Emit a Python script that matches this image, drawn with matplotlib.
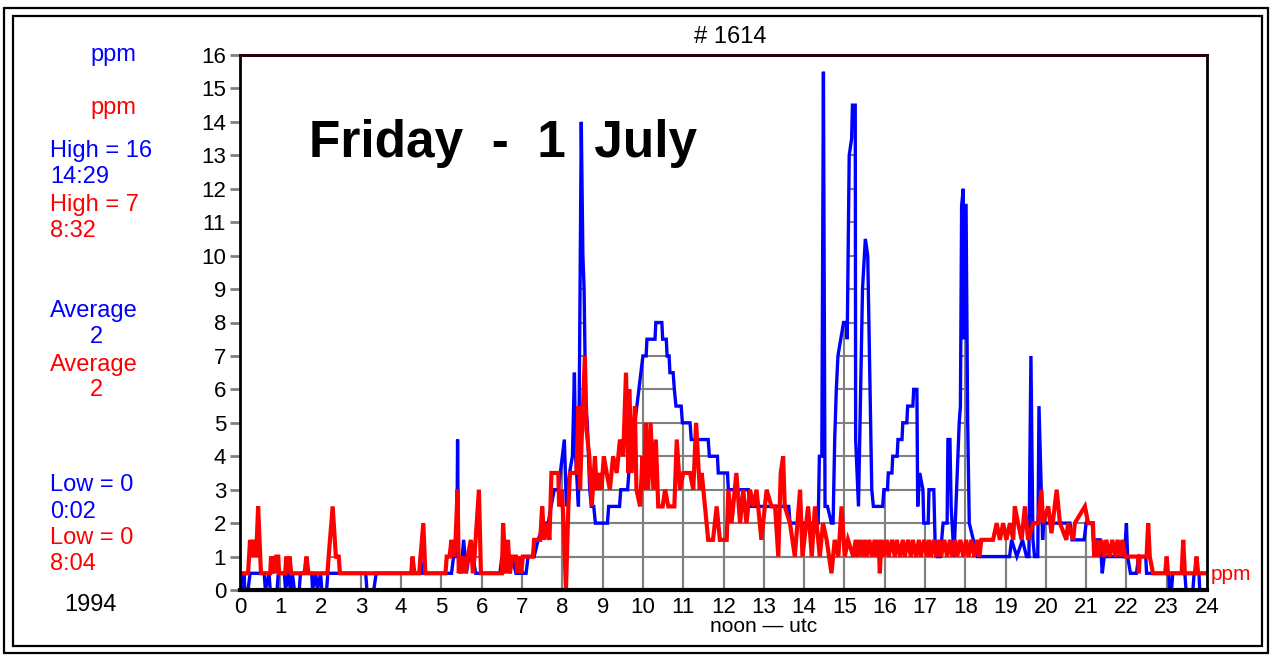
import matplotlib.pyplot as plt
from matplotlib.patches import Polygon, Rectangle

plt.rcParams['font.family'] = ['Liberation Sans', 'DejaVu Sans']

# blue trace: (hour, ppm) vertices
blue_t = [0.00, 0.05, 0.10, 0.12, 0.20, 0.25, 0.60, 0.63, 0.72, 0.75, 0.92, 0.95, 1.10, 1.13, 1.20,
          1.25, 1.30, 1.35, 1.47, 1.50, 1.78, 1.80, 1.88, 1.92, 2.00, 2.03, 2.15, 2.18, 3.12, 3.15,
          3.32, 3.38, 4.45, 4.48, 4.52, 5.25, 5.30, 5.38, 5.40, 5.42, 5.48, 5.55, 5.62, 5.68, 5.78,
          5.85, 6.45, 6.50, 6.55, 6.62, 6.70, 6.75, 6.85, 6.92, 6.95, 7.00, 7.10, 7.15, 7.30, 7.40,
          7.55, 7.65, 7.72, 7.80, 7.90, 8.05, 8.10, 8.18, 8.25, 8.30, 8.33, 8.40, 8.47, 8.51, 8.54,
          8.58, 8.62, 8.68, 8.72, 8.78, 8.82, 9.12, 9.15, 9.42, 9.45, 9.62, 9.65, 9.72, 9.76, 9.80,
          9.85, 9.90, 9.95, 10.00, 10.08, 10.10, 10.30, 10.32, 10.47, 10.49, 10.58, 10.60, 10.65,
          10.67, 10.75, 10.78, 10.82, 10.95, 10.98, 11.17, 11.20, 11.62, 11.65, 11.85, 11.87, 12.10,
          12.12, 12.62, 12.65, 13.62, 13.65, 14.35, 14.38, 14.44, 14.48, 14.52, 14.58, 14.68, 14.72,
          14.76, 14.80, 14.84, 14.98, 15.05, 15.07, 15.12, 15.18, 15.20, 15.27, 15.28, 15.35, 15.45,
          15.52, 15.58, 15.68, 15.72, 15.95, 15.98, 16.07, 16.09, 16.18, 16.20, 16.31, 16.33, 16.43,
          16.45, 16.55, 16.57, 16.70, 16.72, 16.80, 16.82, 16.87, 16.95, 16.97, 17.08, 17.10, 17.22,
          17.25, 17.30, 17.38, 17.45, 17.55, 17.57, 17.62, 17.65, 17.72, 17.85, 17.88, 17.91, 17.95,
          17.97, 18.00, 18.02, 18.06, 18.10, 18.20, 18.30, 19.10, 19.15, 19.28, 19.42, 19.52, 19.58,
          19.63, 19.68, 19.72, 19.80, 19.83, 19.92, 19.95, 20.60, 20.65, 20.95, 21.00, 21.15, 21.18,
          21.35, 21.40, 21.45, 21.95, 22.00, 22.03, 22.10, 22.25, 22.30, 22.48, 22.50, 23.05, 23.07,
          23.12, 23.15, 23.45, 23.48, 23.65, 23.68, 23.80, 23.82, 24.00]
blue_v = [0.0, 0.0, 0.5, 0.0, 0.0, 0.5, 0.5, 0.0, 0.5, 0.0, 0.0, 0.5, 0.5, 0.0, 0.5,
          0.0, 0.5, 0.0, 0.0, 0.5, 0.5, 0.0, 0.5, 0.0, 0.5, 0.0, 0.0, 0.5, 0.5, 0.0,
          0.0, 0.5, 0.5, 1.0, 0.5, 0.5, 1.0, 1.0, 4.5, 1.0, 0.5, 1.5, 0.5, 1.0, 1.0,
          0.5, 0.5, 1.0, 0.5, 1.0, 0.5, 1.0, 0.5, 0.5, 1.0, 0.5, 0.5, 1.0, 1.0, 1.5,
          2.0, 2.0, 2.5, 3.0, 3.0, 4.5, 2.5, 3.5, 4.0, 6.5, 4.0, 2.5, 14.0, 10.0, 9.0,
          5.5, 5.0, 3.0, 2.5, 2.5, 2.0, 2.0, 2.5, 2.5, 3.0, 3.0, 3.5, 4.0, 4.5, 5.0,
          5.5, 6.0, 6.5, 7.0, 7.0, 7.5, 7.5, 8.0, 8.0, 7.5, 7.5, 7.0, 7.0,
          6.5, 6.5, 6.0, 5.5, 5.5, 5.0, 5.0, 4.5, 4.5, 4.0, 4.0, 3.5, 3.5,
          3.0, 3.0, 2.5, 2.5, 2.0, 2.0, 4.0, 4.0, 15.5, 2.5, 2.5, 2.0, 2.0,
          4.5, 6.0, 7.0, 8.0, 8.0, 7.5, 13.0, 13.5, 14.5, 14.5, 4.5, 2.5, 9.0,
          10.5, 10.0, 3.0, 2.5, 2.5, 3.0, 3.0, 3.5, 3.5, 4.0, 4.0, 4.5, 4.5,
          5.0, 5.0, 5.5, 5.5, 6.0, 6.0, 2.5, 3.5, 3.0, 2.0, 2.0, 3.0, 3.0,
          1.5, 1.0, 1.0, 2.0, 2.0, 4.5, 4.5, 2.5, 1.0, 5.0, 5.5, 11.5, 12.0,
          7.5, 11.5, 11.5, 5.0, 2.0, 1.5, 1.0, 1.0, 1.5, 1.0, 1.5, 1.0, 1.0,
          7.0, 1.5, 1.0, 1.0, 5.5, 1.5, 2.0, 2.0, 1.5, 1.5, 2.0, 2.0, 1.5,
          1.5, 0.5, 1.0, 1.0, 2.0, 1.0, 0.5, 0.5, 1.0, 1.0, 0.5, 0.5, 0.0,
          0.0, 0.5, 0.5, 0.0, 0.0, 0.5, 0.5, 0.0, 0.0]

# red trace: (hour, ppm) vertices
red_t = [0.00, 0.20, 0.25, 0.30, 0.33, 0.40, 0.45, 0.52, 0.75, 0.77, 0.80, 0.83, 0.87, 0.90, 0.95,
         0.97, 1.12, 1.15, 1.20, 1.23, 1.27, 1.60, 1.65, 1.70, 2.17, 2.20, 2.30, 2.38, 2.45, 2.48,
         4.25, 4.28, 4.33, 4.45, 4.48, 4.55, 4.60, 5.10, 5.13, 5.20, 5.25, 5.30, 5.35, 5.40, 5.43,
         5.47, 5.50, 5.55, 5.60, 5.65, 5.73, 5.78, 5.82, 5.93, 5.98, 6.50, 6.53, 6.60, 6.65, 6.70,
         6.75, 6.85, 6.88, 6.92, 6.98, 7.02, 7.27, 7.30, 7.45, 7.50, 7.55, 7.60, 7.68, 7.73, 7.90,
         7.92, 7.98, 8.02, 8.09, 8.15, 8.19, 8.35, 8.40, 8.44, 8.48, 8.56, 8.60, 8.67, 8.73, 8.81,
         8.85, 8.93, 8.97, 9.03, 9.10, 9.18, 9.26, 9.35, 9.43, 9.51, 9.58, 9.64, 9.66, 9.72, 9.80,
         9.84, 9.93, 9.99, 10.03, 10.07, 10.13, 10.19, 10.26, 10.32, 10.38, 10.49, 10.55, 10.63,
         10.78, 10.84, 10.92, 11.00, 11.17, 11.25, 11.32, 11.41, 11.46, 11.54, 11.62, 11.74, 11.83,
         11.91, 12.08, 12.12, 12.20, 12.32, 12.41, 12.49, 12.57, 12.66, 12.74, 12.82, 12.94, 13.07,
         13.19, 13.28, 13.36, 13.42, 13.48, 13.52, 13.65, 13.77, 13.90, 13.96, 14.10, 14.19, 14.27,
         14.39, 14.47, 14.56, 14.68, 14.76, 14.85, 14.93, 15.01, 15.09, 15.22, 15.28, 15.33, 15.38,
         15.45, 15.50, 15.55, 15.62, 15.68, 15.75, 15.80, 15.85, 15.88, 15.92, 15.98, 16.05, 16.10,
         16.18, 16.25, 16.30, 16.38, 16.45, 16.50, 16.58, 16.65, 16.70, 16.78, 16.85, 16.90, 16.98,
         17.05, 17.10, 17.15, 17.22, 17.28, 17.35, 17.40, 17.48, 17.55, 17.62, 17.68, 17.75, 17.80,
         17.88, 17.95, 18.02, 18.08, 18.15, 18.22, 18.30, 18.35, 18.40, 18.69, 18.78, 18.86, 18.94,
         19.02, 19.11, 19.19, 19.23, 19.31, 19.40, 19.48, 19.56, 19.69, 19.81, 19.89, 19.93, 20.06,
         20.14, 20.27, 20.35, 20.51, 20.55, 20.68, 20.72, 20.97, 21.05, 21.17, 21.20, 21.25, 21.30,
         21.38, 21.45, 21.50, 21.58, 21.65, 21.72, 21.78, 21.85, 21.90, 21.97, 22.08, 22.29, 22.31,
         22.33, 22.50, 22.54, 22.58, 22.66, 22.96, 23.00, 23.03, 23.37, 23.41, 23.45, 23.70, 23.74,
         23.78, 24.00]
red_v = [0.5, 0.5, 1.5, 1.0, 1.5, 1.0, 2.5, 0.5, 0.5, 1.0, 0.5, 1.0, 0.5, 1.0, 1.0,
         0.5, 0.5, 1.0, 0.5, 1.0, 0.5, 0.5, 1.0, 0.5, 0.5, 1.0, 2.5, 1.0, 1.0, 0.5,
         0.5, 1.0, 0.5, 0.5, 1.0, 2.0, 0.5, 0.5, 1.0, 1.0, 1.5, 1.0, 1.5, 3.0, 0.5,
         1.0, 0.5, 1.0, 0.5, 1.0, 1.5, 0.5, 1.0, 3.0, 0.5, 0.5, 2.0, 0.5, 1.5, 0.5,
         1.0, 1.0, 0.5, 1.0, 0.5, 1.0, 1.0, 1.5, 1.5, 2.5, 1.5, 2.0, 1.5, 3.5, 3.5,
         2.5, 3.0, 2.3, 0.0, 2.5, 3.5, 3.5, 5.5, 3.0, 4.5, 7.0, 4.8, 4.0, 2.5, 4.0,
         3.0, 3.5, 3.0, 4.0, 3.5, 3.0, 4.0, 3.5, 4.5, 4.0, 6.5, 3.5, 6.0, 3.5, 5.5,
         3.0, 2.5, 4.0, 3.0, 5.0, 3.0, 5.0, 3.0, 4.5, 2.5, 2.5, 3.0, 2.5,
         2.5, 4.5, 3.0, 3.5, 3.5, 3.0, 5.0, 3.0, 3.5, 2.5, 1.5, 1.5, 2.5,
         1.5, 1.5, 3.0, 2.0, 3.5, 2.0, 3.0, 2.0, 3.0, 2.5, 3.0, 1.5, 3.0,
         2.5, 2.5, 1.0, 3.5, 4.0, 2.5, 2.0, 1.0, 3.0, 1.0, 2.5, 1.0, 2.5,
         1.0, 2.0, 1.5, 0.5, 1.5, 1.0, 2.5, 1.0, 1.5, 1.0, 1.5, 1.0, 1.5,
         1.0, 1.5, 1.0, 1.5, 1.0, 1.5, 1.0, 1.5, 0.5, 1.5, 1.0, 1.5, 1.0,
         1.5, 1.0, 1.5, 1.0, 1.5, 1.0, 1.5, 1.0, 1.5, 1.0, 1.5, 1.0, 1.5,
         1.0, 1.5, 1.0, 1.5, 1.0, 1.5, 1.0, 1.5, 1.0, 1.5, 1.0, 1.5, 1.0,
         1.5, 1.0, 1.5, 1.0, 1.5, 1.0, 1.5, 1.0, 1.5, 1.5, 2.0, 1.5, 2.0,
         1.5, 2.0, 1.5, 2.5, 2.0, 1.5, 2.5, 1.5, 2.0, 2.0, 3.0, 2.0, 2.5,
         1.7, 3.0, 2.0, 1.5, 2.0, 1.5, 2.0, 2.5, 2.0, 2.0, 1.0, 1.5, 1.0,
         1.5, 1.0, 1.5, 1.0, 1.5, 1.0, 1.5, 1.0, 1.5, 1.0, 1.0, 1.0, 0.5,
         1.0, 1.0, 2.0, 1.0, 0.5, 0.5, 1.0, 0.5, 0.5, 1.5, 0.5, 0.5, 1.0,
         0.5, 0.5]

hour_ticks = list(range(25))
ppm_ticks = list(range(17))

W, H = 1273, 656


def fx(x):
    return x / W


def fy(y):
    return 1 - y / H


fig = plt.figure(figsize=(W / 100, H / 100), dpi=100)
ax = fig.add_axes([fx(240), fy(590), fx(967), 535 / H])

# curves
ax.plot(blue_t, blue_v, color='#0000ff', lw=2.4, zorder=3, solid_joinstyle='miter')
ax.plot(red_t, red_v, color='#ff0000', lw=3.0, zorder=4, solid_joinstyle='miter')

# gray grid only shows under the curves
for tt, vv in [(blue_t, blue_v), (red_t, red_v)]:
    verts = [(0, 0)] + list(zip(tt, vv)) + [(24, 0)]
    clip = Polygon(verts, closed=True, transform=ax.transData)
    vl = ax.vlines(hour_ticks[1:-1], 0, 16, color='#808080', lw=1.5, zorder=1)
    hl = ax.hlines(ppm_ticks[1:-1], 0, 24, color='#808080', lw=1.5, zorder=1)
    vl.set_clip_path(clip)
    hl.set_clip_path(clip)

ax.set_xlim(0, 24)
ax.set_ylim(0, 16)
ax.set_xticks(hour_ticks)
ax.set_yticks(ppm_ticks)
ax.tick_params(axis='x', length=0, pad=5, labelsize=16)
ax.tick_params(axis='y', length=7, width=2, color='#808080', pad=3, labelsize=16)

for side in ['left', 'right']:
    ax.spines[side].set_linewidth(2)
    ax.spines[side].set_color('black')
ax.spines['bottom'].set_linewidth(3)
ax.spines['top'].set_linewidth(2.2)
ax.spines['top'].set_color('#2a0010')
for sp in ax.spines.values():
    sp.set_zorder(6)

ax.text(1.72, 13.35, 'Friday  -  1  July', fontsize=37, fontweight='bold', va='center', zorder=2)
ax.text(13.0, -1.1, 'noon \u2014 utc', fontsize=15, ha='center', va='center')
ax.text(24.1, 0.45, 'ppm', fontsize=15, color='#ff0000', va='center')

# header
fig.text(fx(730), fy(37), '# 1614', fontsize=17, ha='center', va='center')

# left-hand summary
left_labels = [
    (113, 55, 'ppm', '#0000ff', 'center'),
    (113, 108, 'ppm', '#ff0000', 'center'),
    (50, 151, 'High = 16', '#0000ff', 'left'),
    (50, 177, '14:29', '#0000ff', 'left'),
    (50, 205, 'High = 7', '#ff0000', 'left'),
    (50, 231, '8:32', '#ff0000', 'left'),
    (50, 311, 'Average', '#0000ff', 'left'),
    (96, 337, '2', '#0000ff', 'center'),
    (50, 365, 'Average', '#ff0000', 'left'),
    (96, 390, '2', '#ff0000', 'center'),
    (50, 485, 'Low = 0', '#0000ff', 'left'),
    (50, 512, '0:02', '#0000ff', 'left'),
    (50, 538, 'Low = 0', '#ff0000', 'left'),
    (50, 564, '8:04', '#ff0000', 'left'),
    (90, 605, '1994', 'black', 'center'),
]
for x, y, s, c, ha in left_labels:
    fig.text(fx(x), fy(y), s, fontsize=17, color=c, ha=ha, va='center')

# double frame
for x0, y0, x1, y1 in [(4, 8, 1268, 653), (13, 16, 1262, 646)]:
    fig.add_artist(Rectangle((fx(x0), fy(y1)), fx(x1 - x0), (y1 - y0) / H,
                             fill=False, edgecolor='black', lw=1.6, transform=fig.transFigure))

fig.savefig('out.png', dpi=100)
